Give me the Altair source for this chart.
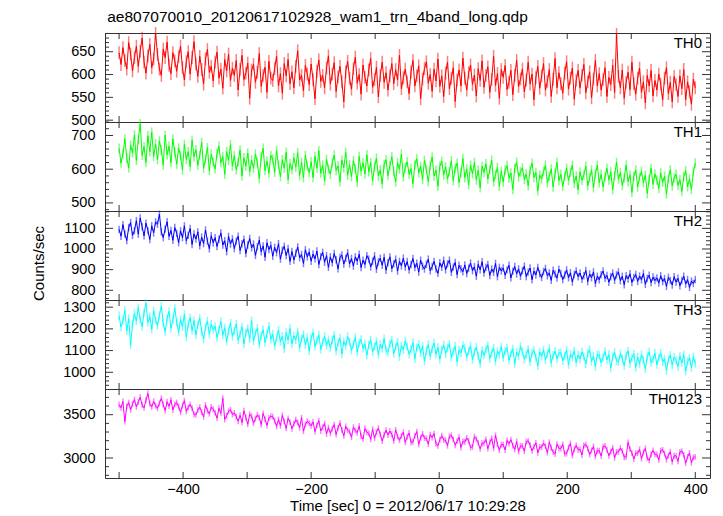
import altair as alt
import pandas as pd

FONT = "Liberation Sans"
TITLE = "ae807070010_20120617102928_wam1_trn_4band_long.qdp"
XTITLE = "Time [sec] 0 = 2012/06/17 10:29:28"
YTITLE = "Counts/sec"

# time bins (3 s) from -500 to 400
TIME = list(range(-500, 401, 3))

TH0 = [
    648, 622, 659, 631, 612, 670, 645, 608, 637, 662,
    618, 651, 680, 627, 603, 641, 666, 615, 634, 690,
    644, 612, 598, 656, 637, 671, 620, 602, 648, 630,
    607, 639, 662, 615, 588, 628, 650, 601, 637, 672,
    623, 596, 640, 611, 579, 634, 655, 605, 618, 586,
    627, 649, 592, 612, 570, 633, 608, 645, 587, 614,
    598, 631, 566, 611, 642, 589, 603, 625, 548, 610,
    622, 583, 605, 646, 574, 598, 616, 561, 629, 592,
    587, 613, 640, 575, 602, 559, 624, 597, 633, 580,
    606, 571, 618, 652, 588, 598, 564, 620, 601, 578,
    623, 589, 547, 607, 632, 585, 598, 571, 614, 641,
    579, 601, 626, 563, 595, 618, 584, 540, 606, 629,
    592, 568, 613, 638, 581, 600, 557, 621, 594, 575,
    610, 635, 572, 589, 616, 551, 598, 627, 583, 604,
    566, 597, 624, 580, 611, 588, 642, 569, 593, 612,
    584, 558, 606, 631, 575, 597, 619, 547, 590, 613,
    628, 581, 600, 563, 612, 586, 634, 574, 597, 552,
    603, 627, 569, 592, 615, 541, 588, 610, 575, 636,
    592, 566, 604, 621, 578, 599, 553, 613, 587, 630,
    572, 598, 617, 561, 589, 640, 576, 602, 548, 611,
    594, 620, 567, 583, 609, 556, 598, 631, 574, 590,
    612, 562, 588, 627, 579, 601, 545, 593, 618, 570,
    597, 624, 566, 585, 611, 552, 590, 635, 571, 604,
    580, 559, 603, 628, 568, 592, 614, 546, 587, 609,
    571, 598, 622, 560, 584, 606, 549, 590, 631, 575,
    602, 566, 589, 615, 552, 594, 578, 620, 561, 688,
    596, 571, 610, 548, 583, 605, 567, 627, 580, 557,
    592, 614, 561, 584, 538, 598, 575, 609, 553, 587,
    566, 601, 579, 544, 592, 615, 558, 583, 540, 596,
    578, 552, 597, 569, 611, 545, 584, 562, 535, 590,
    571,
]

TH1 = [
    662, 618, 645, 690, 633, 604, 671, 648, 702, 626,
    688, 735, 641, 667, 620, 699, 652, 710, 638, 675,
    629, 684, 657, 612, 701, 643, 668, 620, 690, 651,
    615, 663, 640, 598, 674, 629, 652, 607, 686, 637,
    658, 612, 641, 679, 603, 630, 664, 596, 645, 620,
    601, 647, 668, 619, 637, 585, 652, 626, 673, 609,
    640, 598, 621, 657, 580, 634, 609, 648, 592, 627,
    603, 645, 619, 572, 637, 662, 596, 624, 588, 641,
    630, 591, 655, 612, 578, 628, 603, 650, 569, 617,
    598, 634, 606, 649, 581, 620, 575, 641, 609, 590,
    622, 575, 638, 603, 655, 588, 612, 566, 629, 601,
    585, 619, 642, 596, 610, 563, 627, 604, 650, 582,
    613, 578, 625, 601, 561, 638, 594, 619, 586, 643,
    592, 620, 566, 607, 633, 580, 598, 556, 614, 628,
    581, 610, 637, 593, 562, 619, 600, 645, 577, 605,
    622, 585, 602, 557, 614, 631, 589, 608, 570, 626,
    598, 563, 611, 636, 580, 597, 549, 609, 624, 583,
    607, 571, 593, 625, 566, 603, 618, 560, 589, 632,
    575, 601, 554, 612, 586, 620, 568, 597, 545, 609,
    590, 616, 571, 598, 627, 562, 584, 605, 549, 593,
    562, 598, 611, 573, 589, 540, 603, 621, 577, 592,
    604, 569, 586, 551, 597, 618, 575, 590, 536, 583,
    571, 593, 612, 560, 579, 601, 547, 588, 620, 566,
    585, 549, 578, 603, 566, 591, 612, 558, 580, 539,
    592, 567, 583, 609, 551, 574, 598, 545, 587, 612,
    560, 585, 547, 577, 603, 568, 592, 539, 581, 620,
    571, 590, 552, 574, 612, 563, 583, 531, 579, 598,
    547, 576, 594, 560, 582, 528, 571, 603, 555, 586,
    568, 543, 589, 561, 579, 526, 572, 598, 550, 574,
    585, 552, 569, 534, 578, 596, 548, 571, 540, 592,
    618,
]

TH2 = [
    1095, 1062, 1118, 1073, 1041, 1104, 1128, 1066, 1089, 1137,
    1072, 1150, 1108, 1064, 1125, 1089, 1046, 1112, 1078, 1131,
    1120, 1168, 1083, 1055, 1097, 1132, 1061, 1090, 1042, 1104,
    1076, 1031, 1088, 1055, 1112, 1040, 1067, 1099, 1022, 1073,
    1048, 1083, 1015, 1057, 1026, 1092, 1038, 1001, 1064, 1030,
    1055, 1012, 1047, 1078, 1019, 1040, 987, 1061, 1024, 1049,
    1002, 1038, 1062, 993, 1025, 1047, 978, 1019, 1051, 1006,
    1024, 969, 1011, 1043, 987, 1015, 960, 1030, 997, 1018,
    965, 1008, 982, 1026, 951, 994, 1013, 968, 1002, 940,
    988, 947, 979, 1010, 958, 973, 930, 996, 962, 985,
    941, 976, 952, 990, 925, 963, 984, 936, 968, 911,
    962, 933, 978, 948, 904, 959, 971, 927, 955, 982,
    928, 954, 917, 962, 941, 975, 910, 946, 925, 968,
    951, 913, 940, 967, 902, 938, 955, 921, 960, 897,
    934, 962, 905, 928, 951, 893, 940, 918, 956, 912,
    939, 898, 925, 954, 910, 931, 888, 946, 917, 903,
    926, 951, 894, 915, 940, 903, 882, 933, 911, 945,
    899, 928, 946, 887, 912, 935, 876, 921, 904, 890,
    923, 881, 907, 932, 895, 914, 868, 926, 899, 938,
    884, 910, 925, 872, 903, 887, 930, 866, 911, 894,
    908, 873, 899, 921, 860, 892, 915, 879, 904, 868,
    895, 917, 866, 888, 908, 851, 893, 874, 911, 880,
    862, 891, 906, 870, 884, 848, 897, 879, 859, 902,
    881, 852, 874, 899, 861, 885, 840, 877, 894, 866,
    884, 853, 870, 896, 842, 879, 861, 889, 833, 868,
    851, 876, 893, 858, 872, 839, 866, 884, 848, 875,
    889, 846, 868, 827, 871, 855, 880, 838, 862, 877,
    843, 869, 851, 882, 829, 858, 873, 837, 864, 847,
    860, 835, 871, 842, 857, 819, 863, 848, 826, 866,
    839, 858, 822, 847, 868, 830, 852, 814, 845, 833,
    852,
]

TH3 = [
    1260, 1208, 1238, 1285, 1191, 1247, 1125, 1222, 1271, 1236,
    1298, 1244, 1210, 1275, 1318, 1229, 1256, 1198, 1283, 1240,
    1215, 1262, 1305, 1226, 1187, 1249, 1281, 1202, 1240, 1296,
    1230, 1184, 1243, 1210, 1267, 1162, 1221, 1252, 1193, 1238,
    1172, 1218, 1250, 1189, 1153, 1207, 1236, 1175, 1222, 1196,
    1212, 1160, 1195, 1234, 1171, 1205, 1142, 1188, 1227, 1165,
    1190, 1223, 1148, 1176, 1209, 1130, 1182, 1201, 1153, 1238,
    1144, 1182, 1203, 1128, 1169, 1196, 1137, 1175, 1213, 1152,
    1176, 1121, 1158, 1195, 1140, 1167, 1108, 1183, 1149, 1202,
    1130, 1168, 1149, 1187, 1112, 1155, 1174, 1126, 1160, 1097,
    1158, 1183, 1119, 1146, 1172, 1105, 1139, 1166, 1123, 1150,
    1112, 1149, 1171, 1098, 1136, 1158, 1084, 1142, 1121, 1165,
    1140, 1101, 1129, 1160, 1093, 1135, 1152, 1110, 1131, 1078,
    1126, 1150, 1094, 1118, 1143, 1082, 1129, 1109, 1155, 1100,
    1092, 1131, 1148, 1086, 1117, 1139, 1071, 1122, 1104, 1145,
    1118, 1083, 1106, 1137, 1062, 1114, 1130, 1090, 1121, 1051,
    1099, 1128, 1074, 1108, 1135, 1083, 1115, 1060, 1102, 1126,
    1085, 1112, 1131, 1068, 1096, 1120, 1047, 1103, 1089, 1125,
    1110, 1071, 1098, 1122, 1059, 1092, 1116, 1075, 1040, 1101,
    1078, 1105, 1124, 1063, 1090, 1112, 1050, 1096, 1082, 1118,
    1066, 1099, 1113, 1055, 1086, 1108, 1039, 1092, 1075, 1120,
    1095, 1060, 1081, 1107, 1048, 1088, 1101, 1069, 1030, 1094,
    1073, 1104, 1056, 1085, 1110, 1042, 1079, 1097, 1061, 1088,
    1091, 1052, 1076, 1102, 1035, 1083, 1068, 1099, 1045, 1080,
    1061, 1094, 1072, 1038, 1087, 1105, 1050, 1075, 1026, 1083,
    1079, 1044, 1068, 1096, 1057, 1082, 1019, 1071, 1093, 1052,
    1048, 1086, 1063, 1031, 1077, 1099, 1040, 1066, 1085, 1022,
    1070, 1039, 1082, 1056, 1015, 1073, 1094, 1044, 1061, 1088,
    1035, 1067, 1089, 1048, 1062, 1008, 1058, 1079, 1032, 1070,
    1054, 1026, 1075, 1043, 1081, 1005, 1049, 1066, 1021, 1072,
    1040,
]

TH0123 = [
    3615, 3580, 3652, 3420, 3598, 3640, 3556, 3622, 3675, 3590,
    3648, 3702, 3612, 3580, 3668, 3745, 3626, 3590, 3655, 3602,
    3575, 3632, 3690, 3615, 3548, 3650, 3596, 3672, 3555, 3620,
    3640, 3592, 3528, 3605, 3662, 3540, 3585, 3620, 3574, 3502,
    3498, 3556, 3588, 3530, 3475, 3612, 3546, 3510, 3590, 3565,
    3522, 3460, 3575, 3516, 3690, 3445, 3488, 3540, 3558, 3502,
    3520, 3476, 3425, 3492, 3410, 3545, 3468, 3390, 3505, 3482,
    3402, 3455, 3498, 3470, 3385, 3515, 3448, 3375, 3462, 3482,
    3478, 3430, 3365, 3445, 3372, 3492, 3420, 3342, 3458, 3415,
    3338, 3395, 3442, 3410, 3350, 3465, 3310, 3388, 3425, 3402,
    3372, 3418, 3305, 3380, 3430, 3312, 3355, 3398, 3278, 3352,
    3285, 3338, 3385, 3272, 3350, 3402, 3325, 3255, 3366, 3320,
    3305, 3240, 3356, 3318, 3292, 3370, 3250, 3218, 3340, 3298,
    3285, 3215, 3332, 3230, 3298, 3345, 3272, 3196, 3268, 3320,
    3265, 3312, 3275, 3198, 3325, 3248, 3205, 3256, 3298, 3180,
    3245, 3290, 3178, 3186, 3255, 3305, 3158, 3232, 3280, 3230,
    3225, 3160, 3270, 3236, 3282, 3165, 3140, 3212, 3258, 3208,
    3205, 3142, 3250, 3262, 3215, 3148, 3195, 3240, 3122, 3190,
    3185, 3232, 3196, 3122, 3128, 3245, 3222, 3175, 3105, 3170,
    3170, 3215, 3108, 3180, 3228, 3112, 3262, 3160, 3090, 3155,
    3155, 3092, 3202, 3165, 3212, 3145, 3098, 3190, 3075, 3140,
    3140, 3078, 3188, 3198, 3150, 3082, 3130, 3175, 3060, 3126,
    3125, 3172, 3135, 3062, 3182, 3115, 3068, 3045, 3160, 3112,
    3110, 3158, 3048, 3052, 3120, 3168, 3030, 3100, 3146, 3096,
    3100, 3035, 3146, 3155, 3110, 3040, 3088, 3132, 3018, 3085,
    3085, 3022, 3130, 3140, 3095, 3026, 3074, 3118, 3002, 3070,
    3070, 3115, 3080, 3008, 3012, 3180, 3102, 3058, 2988, 3056,
    3055, 3100, 2992, 3065, 3110, 2998, 2972, 3044, 3088, 3040,
    3040, 2978, 3086, 3095, 3050, 2982, 3028, 3072, 2955, 3026,
    3025, 2962, 3070, 3080, 3036, 2940, 3014, 3058, 2945, 3008,
    3012,
]

SERIES = [TH0, TH1, TH2, TH3, TH0123]
NAMES = ["TH0", "TH1", "TH2", "TH3", "TH0123"]
COLORS = ["#ff0000", "#00ff00", "#0000ff", "#00ffff", "#ff00ff"]
ERRS = [14, 14, 18, 19, 34]
YDOMAINS = [[496, 691], [476, 740], [753, 1184], [923, 1333], [2769, 3797]]
YMAJOR = [[500, 550, 600, 650], [500, 600, 700], [800, 900, 1000, 1100],
          [1000, 1100, 1200, 1300], [3000, 3500]]
YMINOR_STEP = [10, 20, 20, 20, 100]
XDOMAIN = [-522, 423]
XLABELS = [-400, -200, 0, 200, 400]
XTICKS = [-500, -400, -300, -200, -100, 0, 100, 200, 300, 400]

W, H = 605, 89
FRAME = "#333333"


def minor_ticks(dom, step, majors):
    lo, hi = dom
    start = -(-lo // step) * step
    return [v for v in range(int(start), int(hi) + 1, step) if v not in majors]


def make_panel(i):
    vals = SERIES[i]
    color = COLORS[i]
    err = ERRS[i]
    xs = alt.Scale(domain=XDOMAIN, nice=False, zero=False)
    ys = alt.Scale(domain=YDOMAINS[i], nice=False, zero=False)
    last = i == len(NAMES) - 1

    if last:
        xaxis = alt.Axis(values=XLABELS, ticks=False, domain=False, grid=False,
                         format="d", labelFontSize=14.5, labelFont=FONT,
                         labelColor="black", labelPadding=4,
                         title=XTITLE, titleFont=FONT, titleFontSize=15,
                         titleFontWeight="normal", titleColor="black",
                         titlePadding=3)
    else:
        xaxis = alt.Axis(labels=False, ticks=False, domain=False, grid=False,
                         title=None)

    yaxis = alt.Axis(values=YMAJOR[i], ticks=False, domain=False, grid=False,
                     format="d", labelFontSize=14.5, labelFont=FONT,
                     labelColor="black", labelPadding=10,
                     title=YTITLE if i == 2 else None,
                     titleFont=FONT, titleFontSize=15, titleFontWeight="normal",
                     titleColor="black", titlePadding=16, titleY=52)

    df = pd.DataFrame({"t": TIME, "v": vals})
    df["lo"] = df["v"] - err
    df["hi"] = df["v"] + err

    X = lambda f: alt.X(f, scale=xs, axis=xaxis)
    Y = lambda f: alt.Y(f, scale=ys, axis=yaxis)

    errbars = alt.Chart(df).mark_rule(color=color, opacity=0.5, strokeWidth=1.5).encode(
        x=X("t:Q"), y=Y("lo:Q"), y2="hi:Q",
    )
    line = alt.Chart(df).mark_line(color=color, strokeWidth=1).encode(
        x=X("t:Q"), y=Y("v:Q"),
    )

    ymaj = pd.DataFrame({"y": YMAJOR[i]})
    ymin = pd.DataFrame({"y": minor_ticks(YDOMAINS[i], YMINOR_STEP[i], YMAJOR[i])})

    def ytick(d, x1, x2):
        return alt.Chart(d).mark_rule(color=FRAME, strokeWidth=1).encode(
            y=Y("y:Q"), x=alt.value(x1), x2=alt.value(x2),
        )

    xt = pd.DataFrame({"t": XTICKS})

    def xtick(y1, y2):
        return alt.Chart(xt).mark_rule(color=FRAME, strokeWidth=1).encode(
            x=X("t:Q"), y=alt.value(y1), y2=alt.value(y2),
        )

    label = alt.Chart(pd.DataFrame({"n": [NAMES[i]]})).mark_text(
        align="right", baseline="top", fontSize=15, font=FONT, color="black"
    ).encode(text="n:N", x=alt.value(W - 8), y=alt.value(3))

    return alt.layer(
        errbars, line,
        ytick(ymaj, 0, 8), ytick(ymaj, W, W - 8),
        ytick(ymin, 0, 4), ytick(ymin, W, W - 4),
        xtick(0, 6), xtick(H, H - 6),
        label,
    ).properties(width=W, height=H)


panels = [make_panel(i) for i in range(len(NAMES))]

chart = alt.vconcat(*panels, spacing=0, bounds="flush").properties(
    title=alt.TitleParams(TITLE, anchor="start", fontSize=15.5, font=FONT,
                          fontWeight="normal", color="black", offset=0, dx=76),
    padding={"left": 23, "top": 2, "right": 4, "bottom": 0},
).configure_view(stroke=FRAME, strokeWidth=1).configure_concat(spacing=0)

chart.save("out.html", embed_options={"renderer": "svg", "actions": False})
